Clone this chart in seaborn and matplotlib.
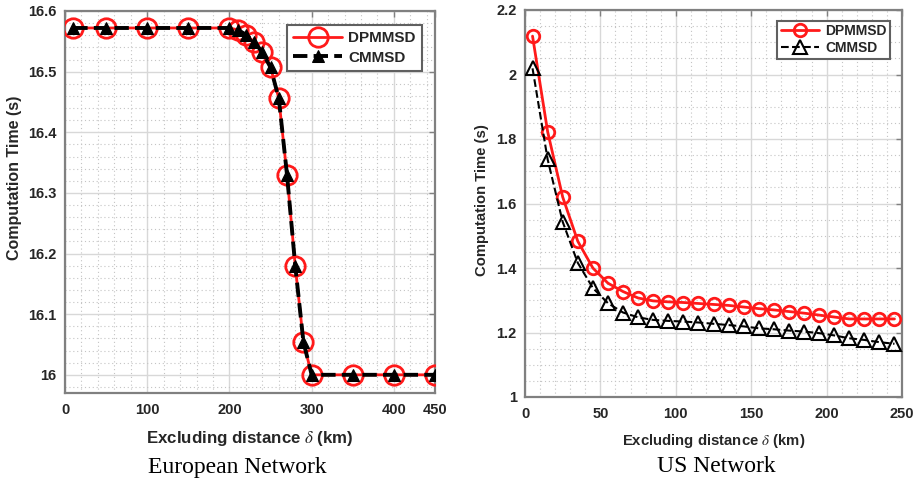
import numpy as np
import pandas as pd
import matplotlib
matplotlib.use("Agg")
import matplotlib.pyplot as plt
import seaborn as sns
from matplotlib.ticker import MultipleLocator, FuncFormatter

# ---------------- data ----------------
eu_x = [10, 50, 100, 150, 200, 210, 220, 230, 240, 250, 260, 270, 280, 290, 300, 350, 400, 450]
eu_dpmmsd = [16.572, 16.572, 16.572, 16.572, 16.572, 16.569, 16.561, 16.549, 16.532, 16.507,
             16.456, 16.330, 16.180, 16.054, 16.0, 16.0, 16.0, 16.0]
eu_cmmsd = [16.572, 16.572, 16.572, 16.572, 16.572, 16.569, 16.561, 16.549, 16.532, 16.507,
            16.456, 16.330, 16.180, 16.054, 16.0, 16.0, 16.0, 16.0]

us_x = [5, 15, 25, 35, 45, 55, 65, 75, 85, 95, 105, 115, 125, 135, 145, 155, 165, 175,
        185, 195, 205, 215, 225, 235, 245]
us_dpmmsd = [2.119, 1.823, 1.620, 1.483, 1.400, 1.353, 1.327, 1.307, 1.298, 1.295, 1.293,
             1.290, 1.287, 1.284, 1.279, 1.274, 1.270, 1.265, 1.260, 1.254, 1.248, 1.242,
             1.242, 1.242, 1.242]
us_cmmsd = [2.019, 1.737, 1.543, 1.416, 1.338, 1.291, 1.262, 1.247, 1.239, 1.236, 1.234,
            1.231, 1.227, 1.223, 1.219, 1.213, 1.210, 1.206, 1.203, 1.198, 1.191, 1.182,
            1.177, 1.170, 1.165]

eu_xticks = [0, 100, 200, 300, 400, 450]
eu_yticks = [16.0, 16.1, 16.2, 16.3, 16.4, 16.5, 16.6]
us_xticks = [0, 50, 100, 150, 200, 250]
us_yticks = [1.0, 1.2, 1.4, 1.6, 1.8, 2.0, 2.2]

series_names = ["DPMMSD", "CMMSD"]
xlabel_txt = r"Excluding distance $\delta$ (km)"
ylabel_txt = "Computation Time (s)"
captions = ["European Network", "US Network"]

# ---------------- style ----------------
sns.set_style("white")
plt.rcParams['font.family'] = ['Liberation Sans', 'DejaVu Sans']
plt.rcParams['mathtext.fontset'] = 'stix'
txt_col = '#262626'

fig = plt.figure(figsize=(9.18, 4.82), dpi=100)
axL = fig.add_axes([65/918, 1-393/482, 370/918, 382/482])
axR = fig.add_axes([525/918, 1-397/482, 377/918, 387/482])


def fmt(v, pos):
    s = f"{v:.1f}"
    if s.endswith(".0"):
        s = s[:-2]
    return s


def style_axes(ax, xticks, yticks, xlim, ylim, xminor, yminor):
    ax.set_xlim(*xlim)
    ax.set_ylim(*ylim)
    ax.set_xticks(xticks)
    ax.set_yticks(yticks)
    ax.xaxis.set_minor_locator(MultipleLocator(xminor))
    ax.yaxis.set_minor_locator(MultipleLocator(yminor))
    ax.yaxis.set_major_formatter(FuncFormatter(fmt))
    ax.grid(True, which='major', color='#d8d8d8', lw=1.0, ls='-')
    ax.grid(True, which='minor', color='#c4c4c4', lw=0.8, ls=(0, (1, 2.5)))
    ax.set_axisbelow(True)
    for sp in ax.spines.values():
        sp.set_visible(True)
        sp.set_color('#808080')
        sp.set_linewidth(1.6)
    ax.tick_params(which='major', direction='in', length=4, width=1, colors='#808080',
                   top=True, right=True, labelcolor=txt_col, labelsize=10.5)
    ax.tick_params(which='minor', length=0)
    ax.tick_params(axis='x', pad=7)
    ax.tick_params(axis='y', pad=6)
    for lab in ax.get_xticklabels() + ax.get_yticklabels():
        lab.set_fontweight('bold')


# ---------------- left: European ----------------
sns.lineplot(x=eu_x, y=eu_dpmmsd, ax=axL, color='#ff1a1a', lw=2, marker='o',
             markersize=14, markerfacecolor='none', markeredgecolor='#ff1a1a',
             markeredgewidth=2, label=series_names[0], zorder=3)
sns.lineplot(x=eu_x, y=eu_cmmsd, ax=axL, color='black', lw=2.8, linestyle='--',
             marker='^', markersize=9, markerfacecolor='black', markeredgecolor='black',
             label=series_names[1], zorder=4)
style_axes(axL, eu_xticks, eu_yticks, (0, 450), (15.97, 16.6), 20, 0.02)

# ---------------- right: US ----------------
sns.lineplot(x=us_x, y=us_dpmmsd, ax=axR, color='#ff1a1a', lw=2, marker='o',
             markersize=9, markerfacecolor='none', markeredgecolor='#ff1a1a',
             markeredgewidth=2, label=series_names[0], zorder=3)
sns.lineplot(x=us_x, y=us_cmmsd, ax=axR, color='black', lw=1.5, linestyle='--',
             marker='^', markersize=10, markerfacecolor='none', markeredgecolor='black',
             markeredgewidth=1.5, label=series_names[1], zorder=4)
style_axes(axR, us_xticks, us_yticks, (0, 250), (1.0, 2.2), 10, 0.05)

axL.set_xlabel(xlabel_txt, fontsize=12.2, fontweight='bold', color=txt_col)
axL.set_ylabel(ylabel_txt, fontsize=11.5, fontweight='bold', color=txt_col)
axR.set_xlabel(xlabel_txt, fontsize=10.7, fontweight='bold', color=txt_col)
axR.set_ylabel(ylabel_txt, fontsize=10.7, fontweight='bold', color=txt_col)

axL.xaxis.set_label_coords(0.5, -0.093)
axR.xaxis.set_label_coords(0.5, -0.09)
axL.yaxis.set_label_coords(-0.116, 0.563)
axR.yaxis.set_label_coords(-0.095, 0.509)

legL = axL.legend(loc='upper right', bbox_to_anchor=(0.965, 0.963), borderaxespad=0,
                  frameon=True, fancybox=False, edgecolor='#606060', framealpha=1,
                  prop={'weight': 'bold', 'size': 11}, handlelength=3.2,
                  borderpad=0.4, labelspacing=0.35, handletextpad=0.4)
legL.get_frame().set_linewidth(1.5)
legR = axR.legend(loc='upper right', bbox_to_anchor=(0.968, 0.972), borderaxespad=0,
                  frameon=True, fancybox=False, edgecolor='#606060', framealpha=1,
                  prop={'weight': 'bold', 'size': 10}, handlelength=2.8,
                  borderpad=0.25, labelspacing=0.2, handletextpad=0.4)
legR.get_frame().set_linewidth(1.5)

fig.text(237/918, 1-467/482, captions[0], family='Liberation Serif', fontsize=17,
         ha='center', va='center', color='black')
fig.text(716/918, 1-467/482, captions[1], family='Liberation Serif', fontsize=17,
         ha='center', va='center', color='black')

fig.savefig("out.png", dpi=100)
